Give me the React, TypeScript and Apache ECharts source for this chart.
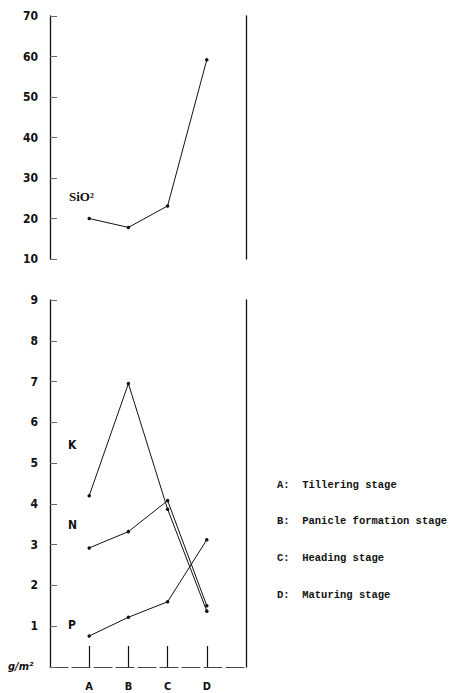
import React, { useEffect, useRef } from "react";
import * as echarts from "echarts";

const categories = ["A", "B", "C", "D"];
const sio2 = [20, 17.8, 23.1, 59.2];
const kValues = [4.2, 6.95, 3.87, 1.37];
const nValues = [2.92, 3.32, 4.08, 1.5];
const pValues = [0.76, 1.22, 1.6, 3.12];
const topTicks = { min: 10, max: 70, interval: 10 };
const bottomTicks = { min: 0, max: 9, interval: 1 };
const legendLines = [
  "A:  Tillering stage",
  "B:  Panicle formation stage",
  "C:  Heading stage",
  "D:  Maturing stage",
];

const FONT = "'DejaVu Sans Condensed', 'Liberation Sans Narrow', 'DejaVu Sans', sans-serif";
const MONO = "'Liberation Mono', 'DejaVu Sans Mono', monospace";
const INK = "#111";

const axisCats = [" ", ...categories, "  "];

function toPairs(vals: number[]) {
  return categories.map((c, i) => [c, vals[i]]);
}

function lineSeries(name: string, vals: number[], idx: number) {
  return {
    name,
    type: "line",
    xAxisIndex: idx,
    yAxisIndex: idx * 2,
    data: toPairs(vals),
    symbol: "circle",
    symbolSize: 3.5,
    itemStyle: { color: INK },
    lineStyle: { color: INK, width: 1 },
  };
}

export default function App() {
  const ref = useRef<HTMLDivElement>(null);
  useEffect(() => {
    if (!ref.current) return;
    const chart = echarts.init(ref.current, undefined, { renderer: "svg" });
    const yLabel = { color: INK, fontFamily: FONT, fontWeight: "bold", fontSize: 12, margin: 12 };
    const yTick = { show: true, inside: true, length: 7, lineStyle: { color: "#666", width: 1 } };
    chart.setOption({
      animation: false,
      backgroundColor: "#fff",
      grid: [
        { left: 50, top: 16, width: 196, height: 243 },
        { left: 50, top: 300, width: 196, height: 367 },
      ],
      xAxis: [
        {
          gridIndex: 0,
          type: "category",
          data: axisCats,
          boundaryGap: false,
          axisLine: { show: false },
          axisTick: { show: false },
          axisLabel: { show: false },
          splitLine: { show: false },
        },
        {
          gridIndex: 1,
          type: "category",
          data: axisCats,
          boundaryGap: false,
          axisLine: { show: true, lineStyle: { color: "#444", width: 1, type: [18, 4] } },
          axisTick: {
            show: true,
            inside: true,
            length: 21,
            interval: (i: number) => i >= 1 && i <= categories.length,
            lineStyle: { color: INK, width: 1.2 },
          },
          axisLabel: {
            show: true,
            interval: 0,
            margin: 14,
            color: INK,
            fontFamily: FONT,
            fontWeight: "bold",
            fontSize: 11,
          },
          splitLine: { show: false },
        },
      ],
      yAxis: [
        {
          gridIndex: 0,
          type: "value",
          ...topTicks,
          axisLine: { show: true, lineStyle: { color: INK, width: 1.3 } },
          axisTick: yTick,
          axisLabel: yLabel,
          splitLine: { show: false },
        },
        {
          gridIndex: 0,
          type: "value",
          position: "right",
          ...topTicks,
          axisLine: { show: true, lineStyle: { color: INK, width: 1.3 } },
          axisTick: { show: false },
          axisLabel: { show: false },
          splitLine: { show: false },
        },
        {
          gridIndex: 1,
          type: "value",
          ...bottomTicks,
          axisLine: { show: true, lineStyle: { color: INK, width: 1.3 } },
          axisTick: yTick,
          axisLabel: { ...yLabel, formatter: (v: number) => (v === 0 ? "" : String(v)) },
          splitLine: { show: false },
        },
        {
          gridIndex: 1,
          type: "value",
          position: "right",
          ...bottomTicks,
          axisLine: { show: true, lineStyle: { color: INK, width: 1.3 } },
          axisTick: { show: false },
          axisLabel: { show: false },
          splitLine: { show: false },
        },
      ],
      series: [
        { ...lineSeries("SiO2", sio2, 0), yAxisIndex: 0 },
        { ...lineSeries("K", kValues, 1), yAxisIndex: 2 },
        { ...lineSeries("N", nValues, 1), yAxisIndex: 2 },
        { ...lineSeries("P", pValues, 1), yAxisIndex: 2 },
      ],
      graphic: [
        { type: "text", x: 69, y: 190, style: { text: "SiO²", fill: INK, font: `bold 13px 'Liberation Serif', serif` } },
        { type: "text", x: 68, y: 439, style: { text: "K", fill: INK, font: `bold 12px ${FONT}` } },
        { type: "text", x: 68, y: 519, style: { text: "N", fill: INK, font: `bold 12px ${FONT}` } },
        { type: "text", x: 68, y: 619, style: { text: "P", fill: INK, font: `bold 12px ${FONT}` } },
        { type: "text", x: 8, y: 661, style: { text: "g/m²", fill: INK, font: `bold italic 11px ${FONT}` } },
        ...legendLines.map((t, i) => ({
          type: "text",
          x: 277,
          y: 479 + i * 36.7,
          style: { text: t, fill: INK, font: `bold 10.5px ${MONO}` },
        })),
      ],
    });
    return () => chart.dispose();
  }, []);
  return (
    <div
      ref={ref}
      style={{ position: "fixed", left: 0, top: 0, width: 455, height: 693, background: "#fff" }}
    />
  );
}
